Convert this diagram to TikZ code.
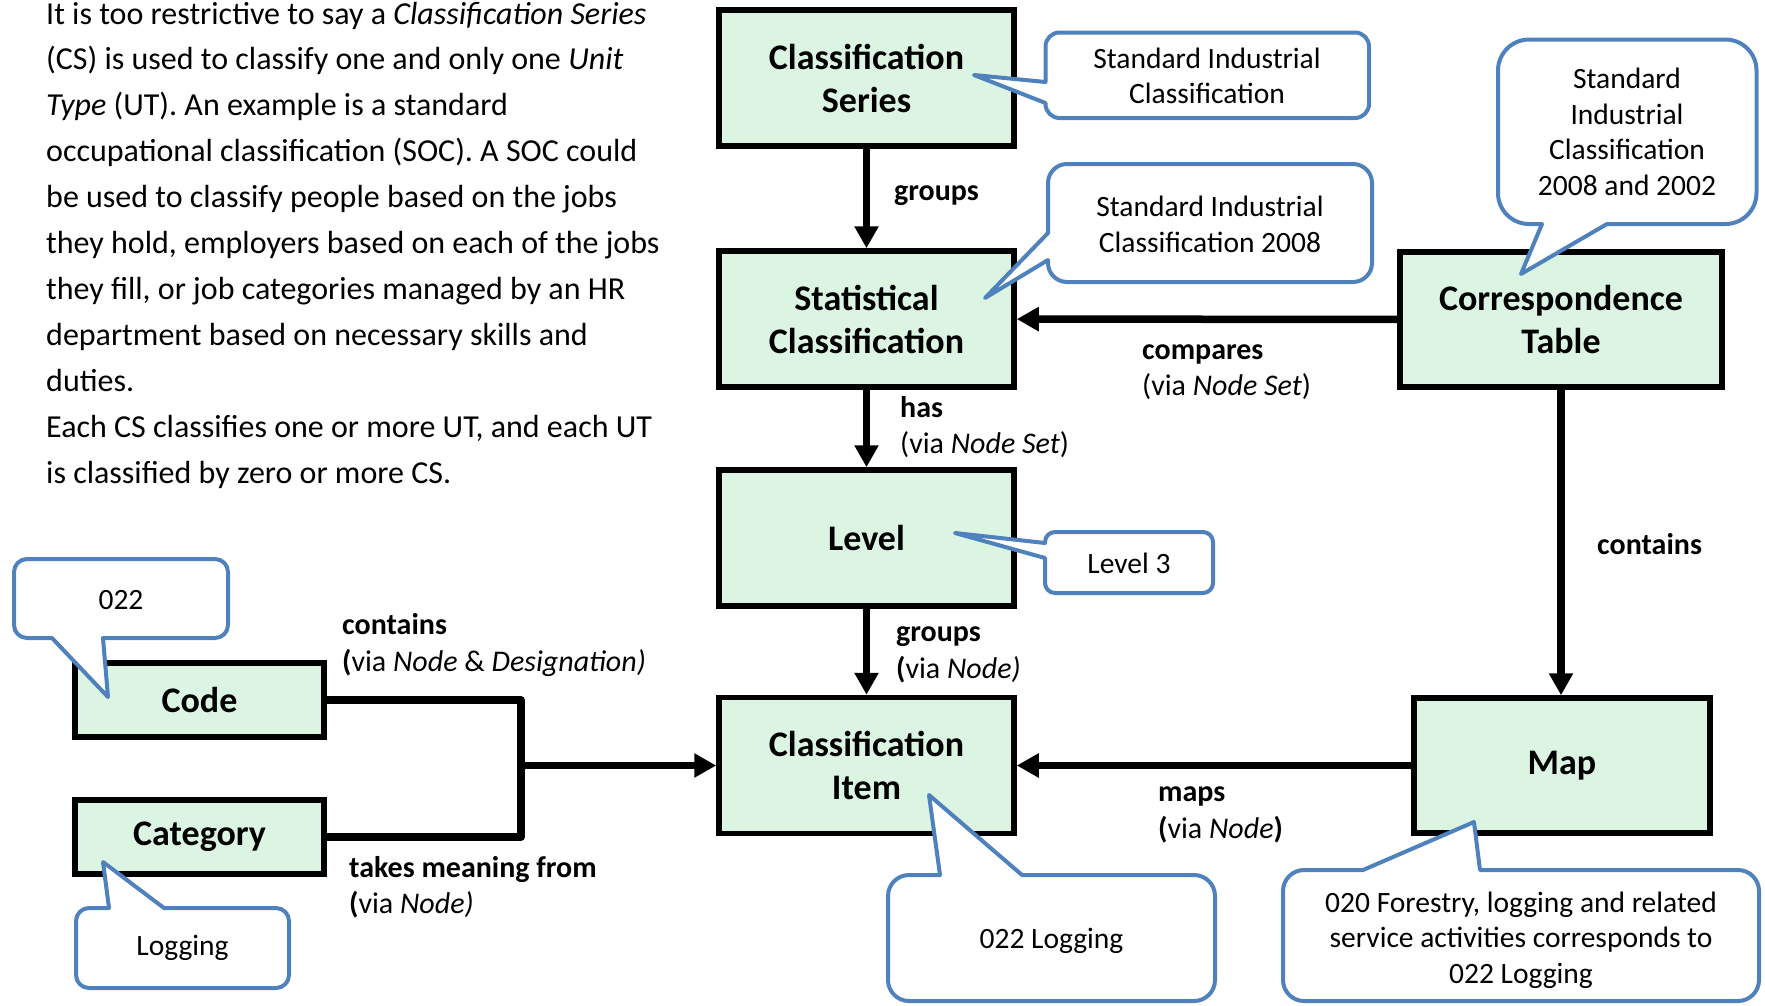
\documentclass[tikz,border=0pt]{standalone}
\usepackage{fontspec}
\setmainfont{Carlito}
\usetikzlibrary{arrows.meta}
\definecolor{boxfill}{RGB}{220,245,227}
\definecolor{callblue}{RGB}{79,129,189}
\begin{document}
\begin{tikzpicture}[x=1pt,y=-1pt,
  box/.style={draw=black, line width=5.5pt, fill=boxfill, minimum width=295pt,
    minimum height=136pt, inner sep=0pt, align=center,
    font=\fontsize{36}{43}\selectfont\bfseries},
  conn/.style={line width=7.5pt, line join=round},
  arr/.style={conn, -{Triangle[length=22pt,width=23pt]}},
  lbl/.style={anchor=west, align=left, inner sep=0pt,
    font=\fontsize{30}{36.5}\selectfont},
  ctext/.style={align=center, inner sep=0pt, font=\fontsize{29.5}{35.5}\selectfont},
  callout/.style={draw=callblue, line width=4pt, fill=white, line join=round}]
\useasboundingbox (0,0) rectangle (1765,1005);

% introductory paragraph
\node[anchor=base west, inner sep=0pt] (intro) at (46,24)
  {\parbox[t]{720pt}{\fontsize{32}{45.9}\selectfont\raggedright
   It is too restrictive to say a \textit{Classification Series}\\
   (CS) is used to classify one and only one \textit{Unit}\\
   \textit{Type} (UT). An example is a standard\\
   occupational classification (SOC). A SOC could\\
   be used to classify people based on the jobs\\
   they hold, employers based on each of the jobs\\
   they fill, or job categories managed by an HR\\
   department based on necessary skills and\\
   duties.\\
   Each CS classifies one or more UT, and each UT\\
   is classified by zero or more CS.}};

% classes
\node[box] (cs)  at (866.5,78)    {Classification\\Series};
\node[box] (sc)  at (866.5,319)   {Statistical\\Classification};
\node[box] (lv)  at (866.5,538)   {Level};
\node[box] (ci)  at (866.5,765.5) {Classification\\Item};
\node[box, minimum width=322pt, minimum height=135pt] (ct)  at (1561,319.5) {Correspondence\\Table};
\node[box, minimum width=296pt, minimum height=135pt] (map) at (1562,765.5) {Map};
\node[box, minimum width=249pt, minimum height=74pt] (code) at (199.5,700) {Code};
\node[box, minimum width=249pt, minimum height=74pt] (cat)  at (199.5,837) {Category};

% relations
\draw[arr] (cs) -- (sc);
\draw[arr] (sc) -- (lv);
\draw[arr] (lv) -- (ci);
\draw[arr] (ct) -- (sc);
\draw[arr] (ct.south) -- (ct.south |- map.north);
\draw[arr] (map) -- (ci);
\coordinate (j) at (521,765.5);
\draw[conn] (code.east) -| (j) |- (cat.east);
\draw[arr] (j) -- (ci.west);

% relation labels
\node[lbl] (l1) at (894,196) {\textbf{groups}};
\node[lbl] (l2) at (900,427) {\textbf{has}\\(via \textit{Node Set})};
\node[lbl] (l3) at (1142,372) {\textbf{compares}\\(via \textit{Node Set})};
\node[lbl] (l4) at (896,655) {\textbf{groups}\\\textbf{(}via \textit{Node)}};
\node[lbl] (l5) at (1597,544) {\textbf{contains}};
\node[lbl] (l6) at (1158,815) {\textbf{maps}\\\textbf{(}via \textit{Node}\textbf{)}};
\node[lbl] (l7) at (342,645) {\textbf{contains}\\\textbf{(}via \textit{Node} \& \textit{Designation)}};
\node[lbl] (l8) at (349,887) {\textbf{takes meaning from}\\\textbf{(}via \textit{Node)}};

% example callouts
\draw[callout] (1045.5,82) [rounded corners=14] -- (1045.5,32.5) -- (1369,32.5)
  -- (1369,118) -- (1045.5,118) [sharp corners] -- (1045.5,103) -- (974,75) -- cycle;
\node[ctext] (e1) at (1207,76) {Standard Industrial\\Classification};

\draw[callout] (1048,233) [rounded corners=19] -- (1048,164) -- (1372,164)
  -- (1372,282) -- (1048,282) [sharp corners] -- (1048,260) -- (985,298) -- cycle;
\node[ctext] (e2) at (1210,224.5) {Standard Industrial\\Classification 2008};

\draw[callout] (1542,224) [rounded corners=31] -- (1498,224) -- (1498,39.5)
  -- (1756.5,39.5) -- (1756.5,224) [sharp corners] -- (1607,224) -- (1521,274) -- cycle;
\node[ctext] (e3) at (1627,132) {Standard\\Industrial\\Classification\\2008 and 2002};

\draw[callout] (1045,543) [rounded corners=10] -- (1045,532) -- (1213,532)
  -- (1213,593) -- (1045,593) [sharp corners] -- (1045,558) -- (955,533) -- cycle;
\node[ctext] (e4) at (1129,563) {Level 3};

\draw[callout] (52,638) [rounded corners=13] -- (14,638) -- (14,559)
  -- (228,559) -- (228,638) [sharp corners] -- (103,638) -- (108,697) -- cycle;
\node[ctext] (e5) at (121,600) {022};

\draw[callout] (109,908) [rounded corners=13] -- (76,908) -- (76,988)
  -- (289,988) -- (289,908) [sharp corners] -- (164,908) -- (103,862) -- cycle;
\node[ctext] (e6) at (182.5,948) {Logging};

\draw[callout] (940,875) [rounded corners=21] -- (888,875) -- (888,1001)
  -- (1215,1001) -- (1215,875) [sharp corners] -- (1022,875) -- (929,795) -- cycle;
\node[ctext] (e7) at (1051.5,941) {022 Logging};

\draw[callout] (1363,870) [rounded corners=21] -- (1283,870) -- (1283,1001)
  -- (1759,1001) -- (1759,870) [sharp corners] -- (1480,870) -- (1474,822) -- cycle;
\node[ctext] (e8) at (1521,940) {020 Forestry, logging and related\\service activities corresponds to\\022 Logging};
\end{tikzpicture}
\end{document}
